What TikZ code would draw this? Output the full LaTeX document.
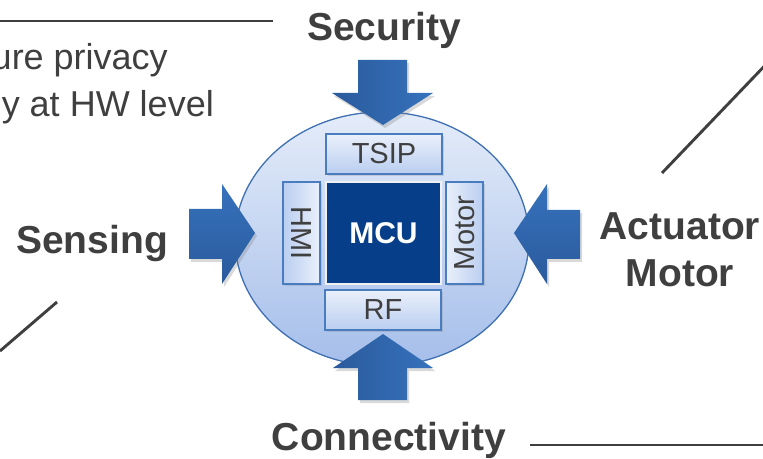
\documentclass[tikz,border=0pt]{standalone}
\usepackage{fontspec}
\setmainfont{Liberation Sans}
\usetikzlibrary{shadows,shapes.geometric}
\definecolor{txt}{HTML}{3F3F3F}
\definecolor{arrowdark}{HTML}{2A5A9C}
\definecolor{arrowlight}{HTML}{3672BC}
\definecolor{disctop}{HTML}{E4ECF9}
\definecolor{discbot}{HTML}{A5BEEA}
\definecolor{discline}{HTML}{3E70B2}
\definecolor{boxtop}{HTML}{EAF0FB}
\definecolor{boxbot}{HTML}{BACEF0}
\definecolor{boxline}{HTML}{4A7CC0}
\definecolor{mcufill}{HTML}{063E8A}
\begin{document}
\begin{tikzpicture}[x=1bp,y=-1bp,
  lbl/.style={text=txt, font=\fontsize{39bp}{46bp}\selectfont\bfseries, inner sep=0pt, anchor=base},
  note/.style={text=txt, font=\fontsize{36bp}{44bp}\selectfont, inner sep=0pt, anchor=base east},
  leader/.style={draw=txt, line width=2.9bp},
  vshadow/.style={drop shadow={opacity=0.3, shadow xshift=2bp, shadow yshift=-3bp}},
  varrow/.style={left color=arrowdark, right color=arrowlight, vshadow},
  harrow/.style={top color=arrowlight, bottom color=arrowdark, vshadow},
  box/.style={draw=boxline, line width=1.2bp, top color=boxtop, bottom color=boxbot,
    inner sep=0pt, text=txt, font=\fontsize{29bp}{34bp}\selectfont,
    drop shadow={opacity=0.25, shadow xshift=1.5bp, shadow yshift=-2bp}}
]
\useasboundingbox (0,0) rectangle (763,459);

% leader lines
\coordinate (l1a) at (0,21);   \coordinate (l1b) at (273,21);
\coordinate (l2a) at (0,351);  \coordinate (l2b) at (57,302);
\coordinate (l3a) at (662,173); \coordinate (l3b) at (775,55);
\coordinate (l4a) at (530,445); \coordinate (l4b) at (775,445);
\draw[leader] (l1a) -- (l1b);
\draw[leader] (l2a) -- (l2b);
\draw[leader] (l3a) -- (l3b);
\draw[leader] (l4a) -- (l4b);

% cropped note text
\node[note] (n1) at (168,70) {ure privacy};
\node[note] (n2) at (214,117) {y at HW level};

% labels
\node[lbl] (security) at (384,41) {Security};
\node[lbl] (sensing) at (92,254) {Sensing};
\node[lbl] (actuator) at (680,240) {Actuator};
\node[lbl] (motorlbl) at (680,287) {Motor};
\node[lbl] (connect) at (389,450) {Connectivity};

% disc
\node[ellipse, draw=discline, line width=1.3bp, top color=disctop, bottom color=discbot,
  minimum width=294bp, minimum height=254bp, inner sep=0pt] (disc) at (382,239) {};

% inner boxes
\node[box, minimum width=116bp, minimum height=40bp] (tsip) at (384,154) {TSIP};
\node[box, minimum width=116bp, minimum height=40bp] (rf) at (383,310) {RF};
\node[box, minimum width=37bp, minimum height=102bp, left color=boxbot, right color=boxtop] (hmi) at (301.5,233) {\rotatebox{-90}{HMI}};
\node[box, minimum width=37bp, minimum height=102bp, left color=boxtop, right color=boxbot] (motor) at (464.5,233) {\rotatebox{90}{Motor}};
\node[draw=white!88!gray, line width=2.5bp, fill=mcufill, text=white, inner sep=0pt,
  minimum width=115bp, minimum height=102bp,
  font=\fontsize{30bp}{34bp}\selectfont\bfseries] (mcu) at (383.5,233) {MCU};

% block arrows
\path[varrow] (358,60) -- (407,60) -- (407,93) -- (433,93) -- (383,125) -- (332,93) -- (358,93) -- cycle;
\path[varrow] (358,400) -- (407,400) -- (407,368) -- (433,368) -- (383,334) -- (333,368) -- (358,368) -- cycle;
\path[harrow] (189,209) -- (222,209) -- (222,184) -- (255,233) -- (222,284) -- (222,259) -- (189,259) -- cycle;
\path[harrow] (580,210) -- (547,210) -- (547,184) -- (514,233) -- (547,284) -- (547,259) -- (580,259) -- cycle;
\end{tikzpicture}
\end{document}
